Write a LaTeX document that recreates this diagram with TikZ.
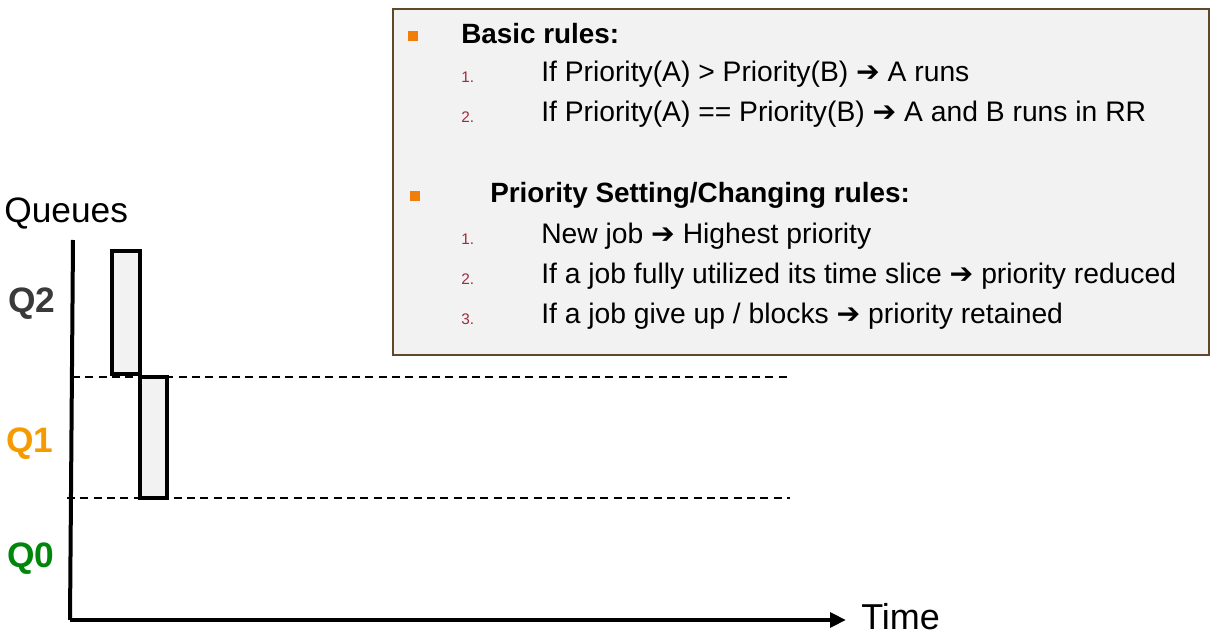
\documentclass[tikz,border=0pt]{standalone}
\usepackage{fontspec}
\setmainfont{Liberation Sans}
\newfontfamily\dejavu{DejaVu Sans}
\usetikzlibrary{arrows.meta}
\definecolor{boxfill}{HTML}{F2F2F2}
\definecolor{boxborder}{HTML}{5E4A2A}
\definecolor{bulletc}{HTML}{F07F09}
\definecolor{numc}{HTML}{A02B3C}
\definecolor{qtwo}{HTML}{3A3A3A}
\definecolor{qone}{HTML}{F59B00}
\definecolor{qzero}{HTML}{00860A}
\newcommand{\harr}{{\dejavu\bfseries\symbol{"2794}}}
\tikzset{
  px/.style={x=0.75pt,y=-0.75pt},
  rule/.style={anchor=west,inner sep=0pt,font=\fontsize{21.2}{25}\selectfont},
  head/.style={rule,font=\fontsize{20.9}{25}\selectfont\bfseries},
  num/.style={anchor=west,inner sep=0pt,text=numc,font=\fontsize{11.5}{13}\selectfont},
  bullet/.style={fill=bulletc,minimum size=7.5pt,inner sep=0pt,draw=none},
  qlabel/.style={anchor=center,inner sep=0pt,font=\fontsize{26.5}{30}\selectfont\bfseries},
  axis/.style={line width=3pt},
  slot/.style={draw=black,line width=2.3pt,fill=boxfill},
  divider/.style={line width=1.1pt,dash pattern=on 6pt off 4pt},
}
\begin{document}
\begin{tikzpicture}[px]
\useasboundingbox[fill=white] (0,0) rectangle (1215,634);
% rules box
\node[draw=boxborder,line width=1.6pt,fill=boxfill,minimum width=612pt,minimum height=259.5pt,anchor=north west,inner sep=0pt] (box) at (392,8) {};
\node[bullet] (b1) at (413,36) {};
\node[head] (h1) at (461,34) {Basic rules:};
\node[num] (n11) at (461,77) {1.};
\node[rule] (r11) at (541,74) {If Priority(A) > Priority(B) \harr{} A runs};
\node[num] (n12) at (461,117) {2.};
\node[rule] (r12) at (541,114) {If Priority(A) == Priority(B) \harr{} A and B runs in RR};
\node[bullet] (b2) at (415,196) {};
\node[head] (h2) at (490,195) {Priority Setting/Changing rules:};
\node[num] (n21) at (461,239) {1.};
\node[rule] (r21) at (541,236) {New job \harr{} Highest priority};
\node[num] (n22) at (461,279) {2.};
\node[rule] (r22) at (541,276) {If a job fully utilized its time slice \harr{} priority reduced};
\node[num] (n23) at (461,319) {3.};
\node[rule] (r23) at (541,316) {If a job give up / blocks \harr{} priority retained};
% axes
\coordinate (ytop) at (73,240);
\coordinate (origin) at (70,620);
\coordinate (xend) at (846,620);
\draw[axis] (ytop) -- (origin);
\draw[axis,-{Triangle[length=12pt,width=11pt]}] (origin) -- (xend);
\node[anchor=base west,inner sep=0pt,font=\fontsize{27}{30}\selectfont] (time) at (861,629) {Time};
\node[anchor=base west,inner sep=0pt,font=\fontsize{26.5}{30}\selectfont] (queues) at (4,223) {Queues};
% dividers
\coordinate (d1a) at (72,377);
\coordinate (d1b) at (790,377);
\coordinate (d2a) at (67,498);
\coordinate (d2b) at (790,498);
\draw[divider] (d1a) -- (d1b);
\draw[divider] (d2a) -- (d2b);
% slots
\draw[slot] (112,251) rectangle (140,374);
\draw[slot] (140,377) rectangle (167,498);
% labels
\node[qlabel,text=qtwo] (q2) at (32,304) {Q2};
\node[qlabel,text=qone] (q1) at (30,444) {Q1};
\node[qlabel,text=qzero] (q0) at (31,559) {Q0};
\end{tikzpicture}
\end{document}
